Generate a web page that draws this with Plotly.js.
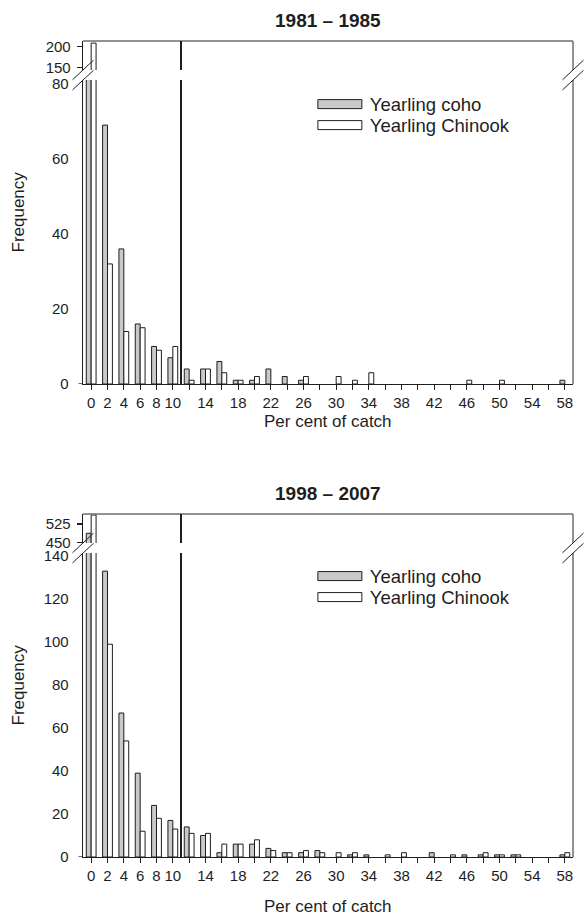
<!DOCTYPE html>
<html><head><meta charset="utf-8">
<script src="https://cdn.plot.ly/plotly-3.0.1.min.js"></script>
<style>html,body{margin:0;padding:0;background:#fff}#c1{width:584px;height:460px}#c2{width:584px;height:457px}</style>
</head><body><div id="c1"></div><div id="c2"></div>
<script>
// ---------- data ----------
const percentBins = [0,2,4,6,8,10,12,14,16,18,20,22,24,26,28,30,32,34,36,38,40,42,44,46,48,50,52,54,56,58];
const tickLabels  = ['0','2','4','6','8','10','','14','','18','','22','','26','','30','','34','','38','','42','','46','','50','','54','','58'];
const cohoPeriod1    = [100,69,36,16,10,7,4,4,6,1,1,4,2,1,0,0,0,0,0,0,0,0,0,0,0,0,0,0,0,1];
const chinookPeriod1 = [209,32,14,15,9,10,1,4,3,1,2,0,0,2,0,2,1,3,0,0,0,0,0,1,0,1,0,0,0,0];
const cohoPeriod2    = [487,133,67,39,24,17,14,10,2,6,6,4,2,2,3,0,1,1,0,0,0,2,0,1,1,1,1,0,0,1];
const chinookPeriod2 = [562,99,54,12,18,13,11,11,6,6,8,3,2,3,2,2,2,0,1,2,0,0,1,0,2,1,1,0,0,2];
const seriesNames = ['Yearling coho','Yearling Chinook'];
const titles = ['1981 – 1985','1998 – 2007'];
const lowerTicks1 = [0,20,40,60,80],  upperTicks1 = [150,200];
const lowerTicks2 = [0,20,40,60,80,100,120,140], upperTicks2 = [450,525];
const cutoffPercent = 11;

// ---------- style ----------
const FONT = 'Liberation Sans, Arial, Helvetica, sans-serif';
const INK = '#1e1e1e', GREY = '#c9c9c9', FRAME = '#6e6e6e';
const PW = 490, PH = 343;          // plot area in px
const LOW_TOP = 0.886, UP_BOT = 0.9155;
const LEGEND_ROW = 21;             // px between legend rows

// empty bins are not drawn (no zero-height outlines)
const nz = arr => arr.map(v => v === 0 ? null : v);

function build(div, title, coho, chinook, lowRange, lowTicks, upRange, upTicks, H, T, B, xTitleDy, legendY) {
  const bar = (y, fill, off, yaxis, name, show) => ({
    type:'bar', x: percentBins, y: nz(y), width:0.6, offset: off, yaxis: yaxis, name: name, showlegend: show,
    marker:{color: fill, line:{color: INK, width:1}}, hoverinfo:'skip'
  });
  const data = [
    bar(coho, GREY, -0.6, 'y', seriesNames[0], true),
    bar(chinook, '#ffffff', 0, 'y', seriesNames[1], true),
    bar(coho, GREY, -0.6, 'y2', seriesNames[0], false),
    bar(chinook, '#ffffff', 0, 'y2', seriesNames[1], false)
  ];
  const dx = 10.5/PW, dy = 9.8/PH;
  const ln = (o) => Object.assign({type:'line', layer:'above', line:{color: INK, width:1}}, o);
  const shapes = [
    ln({xref:'paper', yref:'y2 domain', x0:0, x1:1, y0:1, y1:1, line:{color: FRAME, width:1.5}}),
    ln({xref:'paper', yref:'y2 domain', x0:1, x1:1, y0:0, y1:1, line:{color: FRAME, width:1.5}}),
    ln({xref:'paper', yref:'y domain', x0:1, x1:1, y0:0, y1:1, line:{color: FRAME, width:1.5}}),
    ln({xref:'x', yref:'y domain', x0:cutoffPercent, x1:cutoffPercent, y0:0, y1:1, line:{color: INK, width:2}}),
    ln({xref:'x', yref:'y2 domain', x0:cutoffPercent, x1:cutoffPercent, y0:0, y1:1, line:{color: INK, width:2}}),
    ln({xref:'paper', yref:'y', x0:-4.5/PW, x1:0, y0:0, y1:0, line:{color: INK, width:1.3}}),
    ln({xref:'paper', yref:'paper', x0:-dx, x1:dx, y0:UP_BOT-dy, y1:UP_BOT+dy}),
    ln({xref:'paper', yref:'paper', x0:-dx, x1:dx, y0:LOW_TOP-dy, y1:LOW_TOP+dy}),
    ln({xref:'paper', yref:'paper', x0:1-dx, x1:1+dx, y0:UP_BOT-dy, y1:UP_BOT+dy}),
    ln({xref:'paper', yref:'paper', x0:1-dx, x1:1+dx, y0:LOW_TOP-dy, y1:LOW_TOP+dy})
  ];
  const ann = [
    {xref:'paper', yref:'paper', x:0.5, y:1+20.5/PH, yanchor:'middle', showarrow:false,
     text:'<b>'+title+'</b>', font:{size:19, family:FONT, color:INK}},
    {xref:'paper', yref:'paper', x:-65/PW, y:0.5, textangle:-90, showarrow:false, xanchor:'center', yanchor:'middle',
     text:'Frequency', font:{size:17, family:FONT, color:INK}},
    {xref:'paper', yref:'paper', x:0.5, y:-xTitleDy/PH, yanchor:'middle', showarrow:false,
     text:'Per cent of catch', font:{size:17, family:FONT, color:INK}}
  ];
  const axCommon = {showgrid:false, zeroline:false, fixedrange:true, showline:true, linecolor:INK, linewidth:1.3,
                    tickfont:{size:15, family:FONT, color:INK}};
  const layout = {
    width:584, height:H, margin:{l:83, r:11, t:T, b:B, pad:0},
    paper_bgcolor:'#fff', plot_bgcolor:'rgba(0,0,0,0)', barmode:'overlay',
    font:{family:FONT, color:INK},
    showlegend:true,
    legend:{x:0.463, y:legendY, xanchor:'left', yanchor:'top', bgcolor:'rgba(0,0,0,0)', borderwidth:0,
            itemwidth:50, font:{size:18.5, family:FONT, color:INK}, traceorder:'normal', tracegroupgap:0},
    xaxis: Object.assign({}, axCommon, {range:[-1,59], tickmode:'array', tickvals:percentBins, ticktext:tickLabels,
            ticks:'outside', ticklen:5, tickwidth:1.2, tickcolor:INK, anchor:'y'}),
    yaxis: Object.assign({}, axCommon, {domain:[0, LOW_TOP], range:lowRange, tickmode:'array', tickvals:lowTicks,
            ticks:'', ticklabelstandoff:10, anchor:'x'}),
    yaxis2: Object.assign({}, axCommon, {domain:[UP_BOT, 1], range:upRange, tickmode:'array', tickvals:upTicks,
            ticks:'outside', ticklen:5, tickwidth:1.2, tickcolor:INK, ticklabelstandoff:3, anchor:'x'}),
    shapes: shapes, annotations: ann
  };
  return Plotly.newPlot(div, data, layout, {staticPlot:true, displayModeBar:false}).then(gd => {
    gd.querySelectorAll('.legend .legendpoints path').forEach(p => {
      p.setAttribute('d', 'M-22,4.5H22V-4.5H-22Z');
    });
    const items = gd.querySelectorAll('.legend g.traces');
    if (items.length > 1) {
      const m = /translate\(\s*([-\d.]+)[ ,]+([-\d.]+)\s*\)/.exec(items[0].getAttribute('transform') || '');
      if (m) {
        const x0 = parseFloat(m[1]), y0 = parseFloat(m[2]);
        items[1].setAttribute('transform', 'translate(' + x0 + ',' + (y0 + LEGEND_ROW) + ')');
      }
    }
    return gd;
  });
}

build('c1', titles[0], cohoPeriod1, chinookPeriod1, [0,81], lowerTicks1, [145,214], upperTicks1, 460, 41, 76, 37, 0.87);
build('c2', titles[1], cohoPeriod2, chinookPeriod2, [0,141.4], lowerTicks2, [447,566], upperTicks2, 457, 54, 60, 49, 0.873);
</script></body></html>
